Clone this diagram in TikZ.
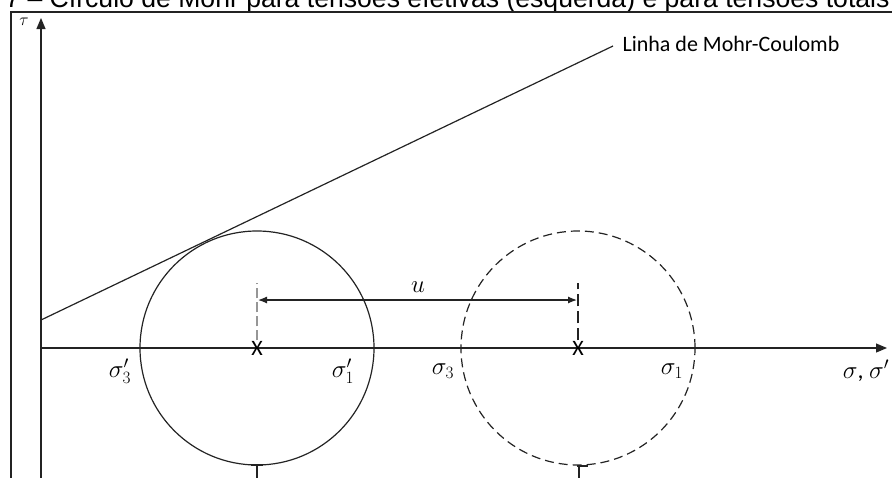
\documentclass[tikz,border=0pt]{standalone}
\usepackage{fontspec}
\setmainfont{Carlito}
\newfontfamily\legfont{Liberation Sans}
\usetikzlibrary{arrows.meta, positioning, calc}
\definecolor{pretomc}{RGB}{35,35,35}
\definecolor{cinzamc}{RGB}{150,150,150}

\begin{document}
\begin{tikzpicture}[x=1pt, y=-1pt, line width=1.2pt, draw=pretomc,
    font=\fontsize{22}{26}\selectfont,
    eixo/.style={-{Triangle[length=11pt,width=9pt]}},
    cota/.style={{Latex[length=9pt,width=7pt]}-{Latex[length=9pt,width=7pt]}},
    rotulo/.style={inner sep=0pt},
    tensao/.style={rotulo, font=\fontsize{24}{28}\selectfont}]
                \useasboundingbox (0,0) rectangle (892,477);
                \clip (0,0) rectangle (892,477);
                % legenda cortada e moldura
                \node[rotulo, anchor=base west, font=\legfont\fontsize{26.6}{30}\selectfont] (leg) at (-78,7) {Figura 7 – Círculo de Mohr para tensões efetivas (esquerda) e para tensões totais};
                \draw (11,480) -- (11,12) -- (895,12);
                % eixos
                \coordinate (O) at (41,348);
                \draw[eixo] (41,482) -- (41,18);
                \draw[eixo] (O) -- (887,348);
                \node[rotulo, font=\fontsize{18}{20}\selectfont] (tau) at (24,22) {$\tau$};
                \node[tensao] (sig) at (866,371) {$\sigma$, $\sigma'$};
                % circulos
                \node[rotulo] (c1) at (257,348) {X};
                \node[rotulo] (c2) at (578,348) {X};
                \draw (c1.center) circle[radius=117pt];
                \draw[dash pattern=on 9pt off 5pt] (c2.center) circle[radius=117pt];
                % linha de Mohr-Coulomb
                \coordinate (mc0) at (41,320);
                \coordinate (mc1) at (613,46);
                \draw (mc0) -- (mc1);
                \node[rotulo, anchor=west] (mc) at (622,44) {Linha de Mohr-Coulomb};
                % poropressao u
                \coordinate (u1) at (257,283);
                \coordinate (u2) at (578,283);
                \draw[cinzamc, dash pattern=on 10pt off 4pt] (c1.north) -- (u1);
                \draw[dash pattern=on 12pt off 5pt] (c2.north) -- (u2);
                \draw[cota] ($(u1)+(1,17)$) -- ($(u2)+(-1,17)$);
                \node[tensao] (u) at (418,287) {$u$};
                % tensoes principais
                \node[tensao] (s3e) at (120,371) {$\sigma'_3$};
                \node[tensao] (s1e) at (343,371) {$\sigma'_1$};
                \node[tensao] (s3) at (443,371) {$\sigma_3$};
                \node[tensao] (s1) at (672,371) {$\sigma_1$};
                % continuacao cortada
                \draw (251,465) -- (263,465) (257,465) -- (257,480);
                \draw (577,466) -- (588,466) (579,466) -- (579,480);
            \end{tikzpicture}
\end{document}
